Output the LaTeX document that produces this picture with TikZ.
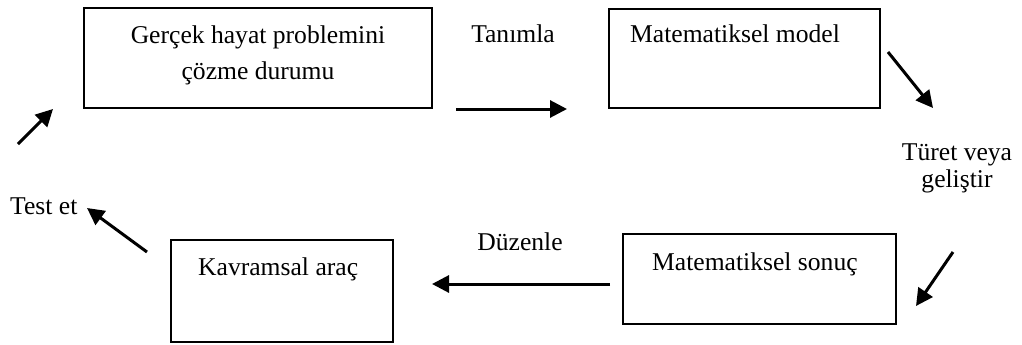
\documentclass[tikz,border=0pt]{standalone}
\usepackage{fontspec}
\setmainfont{Liberation Serif}
\usetikzlibrary{arrows.meta}
\begin{document}
\begin{tikzpicture}[x=1pt,y=-1pt,
  stagebox/.style={draw, line width=1.8pt, rectangle, inner sep=0pt},
  txt/.style={inner sep=0pt, anchor=base, font=\fontsize{25.6pt}{30pt}\selectfont},
  txtl/.style={txt, anchor=base west},
  flow/.style={line width=3pt, -{Triangle[length=17pt,width=17pt]}}]
  \useasboundingbox (0,0) rectangle (1022,345);

  % the four stages of the cycle
  \node[stagebox, minimum width=348pt, minimum height=100pt] (real) at (258,58) {};
  \node[stagebox, minimum width=271pt, minimum height=99pt] (model) at (744.5,58.5) {};
  \node[stagebox, minimum width=273pt, minimum height=90pt] (result) at (759.5,279) {};
  \node[stagebox, minimum width=222pt, minimum height=102pt] (tool) at (282,291) {};

  % texts inside the stages
  \node[txt] (realA) at (258,44) {Gerçek hayat problemini};
  \node[txt] (realB) at (258,79) {çözme durumu};
  \node[txtl] (modelT) at (630,43) {Matematiksel model};
  \node[txtl] (resultT) at (652,270) {Matematiksel sonuç};
  \node[txtl] (toolT) at (198,275) {Kavramsal araç};

  % step labels
  \node[txt] (lblDefine) at (513,43) {Tanımla};
  \node[txt] (lblDeriveA) at (957,160) {Türet veya};
  \node[txt] (lblDeriveB) at (957,187) {geliştir};
  \node[txt] (lblArrange) at (520,250) {Düzenle};
  \node[txtl] (lblTest) at (10,214) {Test et};

  % free-standing arrows between the stages
  \coordinate (defS) at (456,109);   \coordinate (defE) at (567,109);
  \coordinate (derS) at (888,52);    \coordinate (derE) at (933,108);
  \coordinate (devS) at (953,252);   \coordinate (devE) at (916,306);
  \coordinate (arrS) at (610,284);   \coordinate (arrE) at (432,284);
  \coordinate (tstS) at (147,252);   \coordinate (tstE) at (87,208);
  \coordinate (retS) at (18,144);    \coordinate (retE) at (53,109);

  \draw[flow] (defS) -- (defE);
  \draw[flow] (derS) -- (derE);
  \draw[flow] (devS) -- (devE);
  \draw[flow] (arrS) -- (arrE);
  \draw[flow] (tstS) -- (tstE);
  \draw[flow] (retS) -- (retE);
\end{tikzpicture}
\end{document}
